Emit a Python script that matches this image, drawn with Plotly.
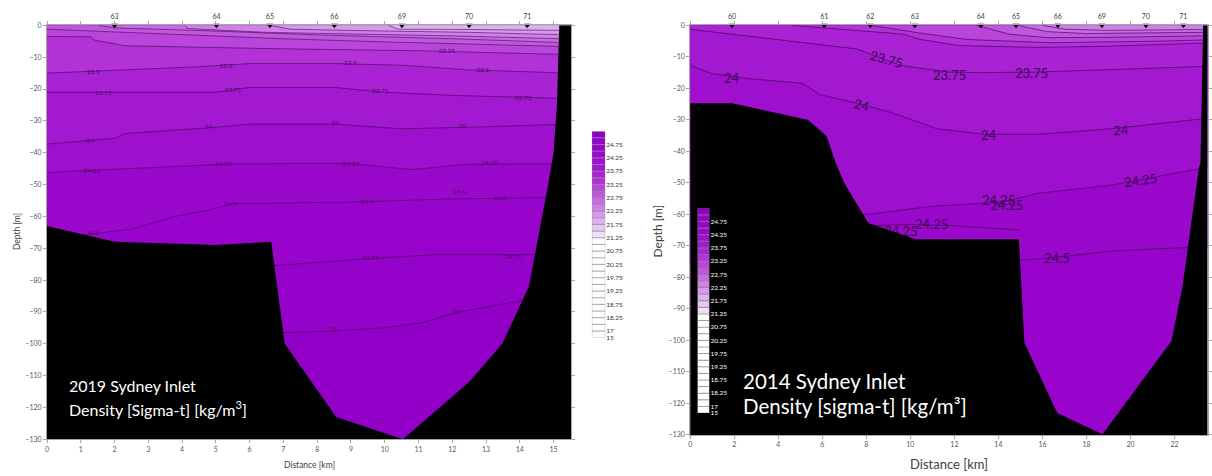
import plotly.graph_objects as go

# ---------------- 2019 (left panel) data ----------------
st19_x = [2.0, 5.02, 6.6, 8.51, 10.51, 12.5, 14.22]
st19_lbl = ['63', '64', '65', '66', '69', '70', '71']

bathy19_x = [0, 2.0, 5.0, 6.64, 7.04, 8.56, 10.54, 12.5, 13.48, 14.27, 14.84, 15.0, 15.1, 15.17, 15.52, 15.52, 0]
bathy19_d = [-63, -68, -69, -68, -100, -123, -130, -112, -100, -82, -50, -40, -25, 0, 0, -130, -130]

iso19_2500_x = [0, 7.0, 8.5, 10.0, 11.1, 12.1, 13.9, 15.52]
iso19_2500_d = [-97, -96.5, -96, -95, -93.4, -90.3, -86.7, -84]
iso19_2475_x = [0, 6.8, 9.5, 11.5, 13.5, 15.52]
iso19_2475_d = [-77, -75.4, -73.3, -72, -72, -72]
iso19_2450_x = [0, 1.0, 2.5, 3.8, 4.8, 5.5, 9.0, 12.0, 15.52]
iso19_2450_d = [-66.5, -66, -64, -60, -58, -56, -55.5, -54.5, -54]
iso19_2425_x = [0, 5.5, 9.0, 10.8, 12.5, 15.52]
iso19_2425_d = [-46.2, -43.5, -43.4, -45.3, -43.6, -43.5]
iso19_2400_x = [0, 2.0, 2.3, 5.0, 6.0, 8.5, 10.5, 12.5, 15.52]
iso19_2400_d = [-37.3, -35.5, -34, -32, -31, -31, -32.5, -32, -31]
iso19_2375_x = [0, 5.0, 6.0, 8.5, 10.0, 12.0, 15.52]
iso19_2375_d = [-21, -21, -19.5, -19.5, -21, -22, -23]
iso19_2350_x = [0, 4.5, 6.0, 8.5, 10.5, 12.5, 15.52]
iso19_2350_d = [-15, -13, -12, -12, -12.5, -14, -15]
iso19_2325_x = [0, 1.3, 1.4, 2.3, 6.6, 11.1, 15.52]
iso19_2325_d = [-3.5, -3.6, -4.6, -6.4, -7.3, -8.0, -9.2]
iso19_2300_x = [0, 3, 7, 10, 15.52]
iso19_2300_d = [-1.2, -2.5, -4.2, -5.2, -6.7]
iso19_2275_x = [1.5, 2.0, 5.0, 8.0, 12.0, 15.52]
iso19_2275_d = [0, -0.8, -1.8, -3.0, -4.2, -5.5]
iso19_2250_x = [4.1, 4.15, 6.5, 9.0, 12.0, 15.52]
iso19_2250_d = [0, -1.0, -2.2, -2.6, -3.3, -4.3]
iso19_2225_x = [6.6, 7.2, 9.0, 10.4, 12.5, 15.52]
iso19_2225_d = [0, -1.2, -1.6, -1.8, -2.2, -3.0]
iso19_2200_x = [10.1, 10.4, 12.5, 15.52]
iso19_2200_d = [0, -1.2, -1.3, -1.6]

lab19_txt = ['23.25', '23.5', '23.5', '23.5', '23.5', '23.75', '23.75', '23.75', '23.75',
             '24', '24', '24', '24', '24.25', '24.25', '24.25', '24.25',
             '24.5', '24.5', '24.5', '24.5-', '24.5', '24.75', '24.75', '25', '25']
lab19_x = [11.84, 1.37, 5.3, 8.98, 12.9, 1.67, 5.5, 9.87, 14.1,
           1.28, 4.78, 8.53, 12.3, 1.33, 5.21, 9.0, 13.1,
           1.35, 5.43, 9.47, 12.24, 13.42, 9.58, 13.8, 12.1, 8.5]
lab19_d = [-8.2, -14.9, -12.8, -11.9, -14.1, -21.3, -20.3, -20.8, -22.8,
           -36.6, -32, -30.8, -31.6, -46, -43.7, -43.7, -43.2,
           -65.4, -56.3, -55.5, -52.4, -54.5, -73.3, -72.8, -90.3, -95.5]

# ---------------- 2014 (right panel) data ----------------
st14_x = [1.9, 6.09, 8.18, 10.2, 13.2, 14.8, 16.7, 18.7, 20.7, 22.4]
st14_lbl = ['60', '61', '62', '63', '64', '65', '66', '69', '70', '71']

bathy14_x = [0, 1.9, 5.36, 6.19, 6.6, 7.01, 8.09, 10.23, 14.77, 14.93, 15.18, 16.67, 18.73, 21.86, 22.36, 23.1, 23.18, 23.3, 23.5, 23.5, 0]
bathy14_d = [-24.7, -24.7, -30, -35.1, -43.5, -50.2, -62.7, -67.9, -67.9, -68, -100.7, -123, -129.8, -100.2, -83, -45.6, -43.5, 0, 0, -130, -130]

iso14_2450_x = [0, 14.85, 16.67, 19.15, 22.6, 23.5]
iso14_2450_d = [-75, -74.7, -73.6, -71.6, -70.5, -70.3]
iso14_2425_x = [0, 8.08, 10.9, 14.2, 15.8, 19.15, 23.5]
iso14_2425_d = [-61, -60, -57.5, -56, -53.3, -50.7, -45]
iso14_2400_x = [0, 0.97, 2.6, 5.1, 5.9, 7.58, 9.2, 11.2, 13.4, 15.8, 19.15, 23.5]
iso14_2400_d = [-12.7, -15.3, -16.9, -18.4, -22, -24.7, -27.8, -32.8, -34.6, -34.6, -32.8, -29.5]
iso14_2375_x = [0, 7.58, 9.56, 11.7, 13.2, 15.8, 23.5]
iso14_2375_d = [-1.25, -7.5, -12.7, -14.8, -15, -14.8, -13]
iso14_2350_x = [4.6, 7.6, 9.7, 10.4, 12.2, 15.8, 19.0, 23.5]
iso14_2350_d = [0, -1.6, -2.8, -4.4, -6.4, -7.0, -6.6, -5.6]
iso14_2325_x = [8.2, 10.4, 12.6, 16.4, 21.4, 23.5]
iso14_2325_d = [0, -2.4, -4.5, -5.5, -5.0, -4.6]
iso14_2300_x = [13.0, 14.5, 16.2, 19.0, 23.5]
iso14_2300_d = [0, -2.8, -3.9, -3.8, -3.3]
iso14_2275_x = [14.9, 16.2, 18.0, 20.0, 23.5]
iso14_2275_d = [0, -2.0, -2.6, -2.5, -2.2]
iso14_2250_x = [16.0, 17.0, 19.0, 21.0, 23.5]
iso14_2250_d = [0, -1.2, -1.6, -1.5, -1.3]
lens14_2425_x = [8.3, 10.0, 12.0, 13.8, 15.0]
lens14_2425_d = [-63.5, -63.2, -63.6, -64.5, -65]

lab14_txt = ['23.75', '23.75', '23.75', '24', '24', '24', '24', '24.25', '24.25', '24.25', '24.25', '24.5']
lab14_x = [8.91, 11.8, 15.5, 1.9, 7.79, 13.56, 19.55, 20.46, 14.0, 14.35, 10.97, 16.67]
lab14_d = [-10.7, -15.9, -15.1, -16.7, -25.3, -34.7, -33.1, -49.2, -55.4, -57.0, -63.1, -73.9]
lab14_ang = [15, 0, 0, 0, 15, 0, -4, -8, 0, 0, 0, 0]
lab14_hidden_txt = ['24.25']
lab14_hidden_x = [9.57]
lab14_hidden_d = [-65.7]

# colour-bar boundaries and labels
cbar_ticktext = ['15', '17', '18.25', '18.75', '19.25', '19.75', '20.25', '20.75', '21.25',
                 '21.75', '22.25', '22.75', '23.25', '23.75', '24.25', '24.75']
cbar_tickpos = [0, 1, 3, 5, 7, 9, 11, 13, 15, 17, 19, 21, 23, 25, 27, 29]

# ---------------- styles ----------------
BAND = {  # colour of band whose upper bound is the key
    21.5: '#f1e0f7', 21.75: '#e8c8f2', 22.0: '#dfb0ee', 22.25: '#d799ea',
    22.5: '#cf82e6', 22.75: '#c76ce2', 23.0: '#c058de', 23.25: '#ba45db',
    23.5: '#b232d8', 23.75: '#a922d4', 24.0: '#a318d1', 24.25: '#9e10ce',
    24.5: '#9a08cc', 24.75: '#9804cb', 25.0: '#9502ca', 25.25: '#9200c8',
}
CB_COLORS = ['#ffffff'] * 15 + [BAND[k] for k in sorted(BAND)]
LINE_C = 'rgba(60,0,80,0.8)'
FONT = 'Lato'
TICK_C = '#595959'

fig = go.Figure()


def add_panel(xa, ya, xmax, base_color, isolines, lw):
    fig.add_trace(go.Scatter(x=[0, xmax, xmax, 0], y=[0, 0, -130, -130], fill='toself',
                             fillcolor=base_color, line=dict(width=0), mode='lines',
                             xaxis=xa, yaxis=ya, hoverinfo='skip'))
    for lev, xs, ds in isolines:
        fig.add_trace(go.Scatter(x=xs, y=ds, mode='lines', fill='tozeroy', fillcolor=BAND[lev],
                                 line=dict(color=LINE_C, width=lw), xaxis=xa, yaxis=ya,
                                 hoverinfo='skip'))


iso19 = [(25.0, iso19_2500_x, iso19_2500_d), (24.75, iso19_2475_x, iso19_2475_d),
         (24.5, iso19_2450_x, iso19_2450_d), (24.25, iso19_2425_x, iso19_2425_d),
         (24.0, iso19_2400_x, iso19_2400_d), (23.75, iso19_2375_x, iso19_2375_d),
         (23.5, iso19_2350_x, iso19_2350_d), (23.25, iso19_2325_x, iso19_2325_d),
         (23.0, iso19_2300_x, iso19_2300_d), (22.75, iso19_2275_x, iso19_2275_d),
         (22.5, iso19_2250_x, iso19_2250_d), (22.25, iso19_2225_x, iso19_2225_d),
         (22.0, iso19_2200_x, iso19_2200_d)]
iso14 = [(24.5, iso14_2450_x, iso14_2450_d), (24.25, iso14_2425_x, iso14_2425_d),
         (24.0, iso14_2400_x, iso14_2400_d), (23.75, iso14_2375_x, iso14_2375_d),
         (23.5, iso14_2350_x, iso14_2350_d), (23.25, iso14_2325_x, iso14_2325_d),
         (23.0, iso14_2300_x, iso14_2300_d), (22.75, iso14_2275_x, iso14_2275_d),
         (22.5, iso14_2250_x, iso14_2250_d)]

# ----- left panel -----
add_panel('x', 'y', 15.52, BAND[25.25], iso19, 0.7)
fig.add_trace(go.Scatter(x=lab19_x, y=lab19_d, mode='text', text=lab19_txt,
                         textfont=dict(size=6.5, color='#45105a', family=FONT),
                         xaxis='x', yaxis='y', hoverinfo='skip'))
fig.add_trace(go.Scatter(x=bathy19_x, y=bathy19_d, fill='toself', fillcolor='black', mode='lines',
                         line=dict(width=0, color='black'), xaxis='x', yaxis='y', hoverinfo='skip'))
fig.add_trace(go.Scatter(x=st19_x, y=[0] * len(st19_x), mode='markers+text', text=st19_lbl,
                         textposition='top center', textfont=dict(size=7, color='#404040', family=FONT),
                         marker=dict(symbol='triangle-down', size=6, color='black'),
                         cliponaxis=False, xaxis='x', yaxis='y', hoverinfo='skip'))

# ----- right panel -----
add_panel('x2', 'y2', 23.5, BAND[24.75], iso14, 0.8)
fig.add_trace(go.Scatter(x=lens14_2425_x, y=lens14_2425_d, mode='lines',
                         line=dict(color=LINE_C, width=0.8), xaxis='x2', yaxis='y2', hoverinfo='skip'))
fig.add_trace(go.Scatter(x=lab14_hidden_x, y=lab14_hidden_d, mode='text', text=lab14_hidden_txt,
                         textfont=dict(size=13, color='#3a0a50', family=FONT),
                         xaxis='x2', yaxis='y2', hoverinfo='skip'))
fig.add_trace(go.Scatter(x=bathy14_x, y=bathy14_d, fill='toself', fillcolor='black', mode='lines',
                         line=dict(width=0, color='black'), xaxis='x2', yaxis='y2', hoverinfo='skip'))
fig.add_trace(go.Scatter(x=st14_x, y=[0] * len(st14_x), mode='markers+text', text=st14_lbl,
                         textposition='top center', textfont=dict(size=7, color='#404040', family=FONT),
                         marker=dict(symbol='triangle-down', size=6, color='black'),
                         cliponaxis=False, xaxis='x2', yaxis='y2', hoverinfo='skip'))
for t, x, d, a in zip(lab14_txt, lab14_x, lab14_d, lab14_ang):
    fig.add_annotation(x=x, y=d, xref='x2', yref='y2', text=t, showarrow=False, textangle=a,
                       font=dict(size=13, color='#3a0a50', family=FONT))

# ----- colour bars -----
for xa, ya in (('x3', 'y3'), ('x4', 'y4')):
    fig.add_trace(go.Bar(x=[0] * 31, y=[1] * 31, base=list(range(31)), width=1,
                         marker=dict(color=CB_COLORS, line=dict(color='#8c8c8c', width=0.6)),
                         xaxis=xa, yaxis=ya, hoverinfo='skip'))

ax_common = dict(showgrid=False, zeroline=False, showline=True, linecolor='#a6a6a6', linewidth=1,
                 ticks='outside', ticklen=3, tickcolor='#a6a6a6', mirror='ticks',
                 tickfont=dict(size=7, color=TICK_C, family=FONT))

fig.update_layout(
    width=1212, height=476, margin=dict(l=0, r=0, t=0, b=0),
    paper_bgcolor='white', plot_bgcolor='rgba(0,0,0,0)', showlegend=False, barmode='overlay',
    font=dict(family=FONT),
    xaxis=dict(domain=[0.0373, 0.4715], range=[0, 15.52], dtick=1, tick0=0, anchor='y', **ax_common),
    yaxis=dict(domain=[0.0721, 0.9565], range=[-130, 0], dtick=10, anchor='x', **ax_common),
    xaxis2=dict(domain=[0.5702, 0.9988], range=[0, 23.5], dtick=2, tick0=0, anchor='y2', **ax_common),
    yaxis2=dict(domain=[0.0813, 0.9565], range=[-130, 0], dtick=10, anchor='x2', **ax_common),
    xaxis3=dict(domain=[0.4887, 0.4998], range=[-0.5, 0.5], visible=False, anchor='y3'),
    yaxis3=dict(domain=[0.2893, 0.7305], range=[0, 31], anchor='x3', side='right', showgrid=False,
                zeroline=False, tickvals=cbar_tickpos, ticktext=cbar_ticktext, ticks='',
                tickfont=dict(size=6.5, color='#333333', family=FONT)),
    xaxis4=dict(domain=[0.5762, 0.5861], range=[-0.5, 0.5], visible=False, anchor='y4'),
    yaxis4=dict(domain=[0.1282, 0.5658], range=[0, 31], anchor='x4', side='right', showgrid=False,
                zeroline=False, tickvals=cbar_tickpos, ticktext=cbar_ticktext, ticks='',
                tickfont=dict(size=6.5, color='white', family=FONT)),
)


def paper_ann(text, px, py, size, color='#404040', angle=0, xanchor='center'):
    fig.add_annotation(x=px / 1212, y=1 - py / 476, xref='paper', yref='paper', text=text,
                       showarrow=False, textangle=angle, xanchor=xanchor, yanchor='middle',
                       font=dict(size=size, color=color, family=FONT))


paper_ann('Depth [m]', 15, 230, 8.5, angle=-90)
paper_ann('Distance [km]', 309, 468, 8.5)
paper_ann('Depth [m]', 658, 230, 12, angle=-90)
paper_ann('Distance [km]', 951, 467, 13)
paper_ann('2019 Sydney Inlet', 65, 387, 16, color='white', xanchor='left')
paper_ann('Density [Sigma-t] [kg/m<sup>3</sup>]', 65, 410, 16, color='white', xanchor='left')
paper_ann('2014 Sydney Inlet', 742, 382, 20.5, color='white', xanchor='left')
paper_ann('Density [sigma-t] [kg/m³]', 742, 408, 20.5, color='white', xanchor='left')

fig.write_html('out.html', config={'displayModeBar': False},
               post_script="document.body.style.margin='0';")
